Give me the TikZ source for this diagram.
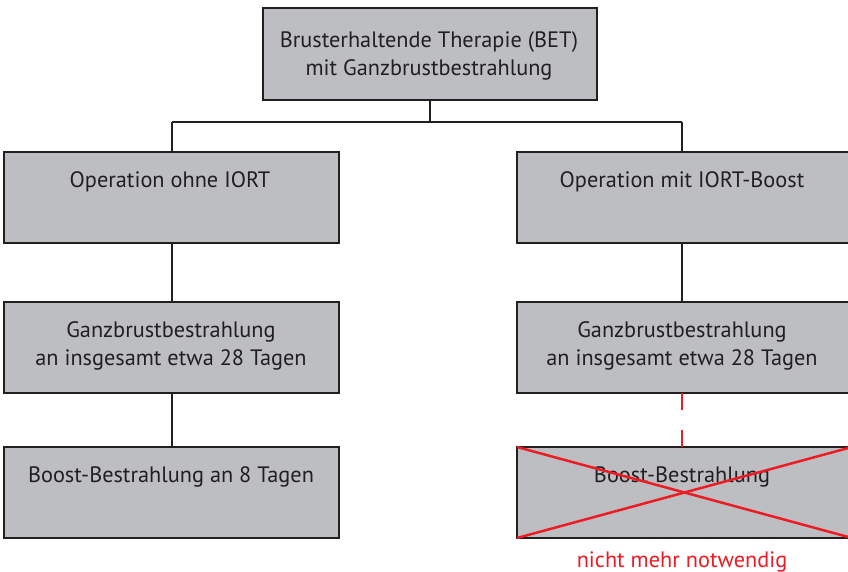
\documentclass[tikz,border=0pt]{standalone}
\usepackage{fontspec}
\setmainfont{PT Sans}
\definecolor{boxfill}{HTML}{BDBEC2}
\definecolor{ink}{HTML}{231F20}
\definecolor{redx}{HTML}{ED1C24}
\begin{document}
\begin{tikzpicture}[x=1pt,y=-1pt,
  box/.style={draw=ink,line width=2.5pt,fill=boxfill,minimum width=335pt,minimum height=91pt,inner sep=0pt,outer sep=0pt},
  lbl/.style={text=ink,font=\fontsize{22.3}{28.5}\selectfont,align=center,inner sep=0pt},
  conn/.style={draw=ink,line width=2.5pt}]
\useasboundingbox (0,0) rectangle (848,572);
\clip (0,0) rectangle (848,572);
% boxes
\node[box,minimum width=334pt,minimum height=92pt] (top) at (430,54) {};
\node[box] (opl) at (171.5,197.5) {};
\node[box] (gl) at (171.5,347.5) {};
\node[box] (bl) at (171.5,492.5) {};
\node[box] (opr) at (684.5,197.5) {};
\node[box] (gr) at (684.5,347.5) {};
\node[box] (br) at (684.5,492.5) {};
% texts
\node[lbl] (ttop) at (429,56) {Brusterhaltende Therapie (BET)\\mit Ganzbrustbestrahlung};
\node[lbl,anchor=base] (topl) at (170,188) {Operation ohne IORT};
\node[lbl,anchor=base] (topr) at (682,188) {Operation mit IORT-Boost};
\node[lbl] (tgl) at (171,346) {Ganzbrustbestrahlung\\an insgesamt etwa 28 Tagen};
\node[lbl] (tgr) at (682,346) {Ganzbrustbestrahlung\\an insgesamt etwa 28 Tagen};
\node[lbl,anchor=base] (tbl) at (171,482) {Boost-Bestrahlung an 8 Tagen};
\node[lbl,anchor=base] (tbr) at (682,482) {Boost-Bestrahlung};
\node[lbl,anchor=base,text=redx] (note) at (682,567) {nicht mehr notwendig};
% connectors
\coordinate (jt) at (430,122);
\coordinate (jl) at (172,122);
\coordinate (jr) at (682,122);
\draw[conn] (top.south) -- (jt);
\draw[conn] (jl) -- (jr);
\draw[conn] (jl) -- (jl|-opl.north);
\draw[conn] (jr) -- (jr|-opr.north);
\draw[conn] (opl.south-|jl) -- (gl.north-|jl);
\draw[conn] (gl.south-|jl) -- (bl.north-|jl);
\draw[conn] (opr.south-|jr) -- (gr.north-|jr);
\draw[draw=redx,line width=2.5pt,dash pattern=on 17pt off 20pt] (gr.south-|jr) -- (br.north-|jr);
% cross
\draw[draw=redx,line width=2.5pt] (br.north west) -- (br.south east);
\draw[draw=redx,line width=2.5pt] (br.south west) -- (br.north east);
\end{tikzpicture}
\end{document}
